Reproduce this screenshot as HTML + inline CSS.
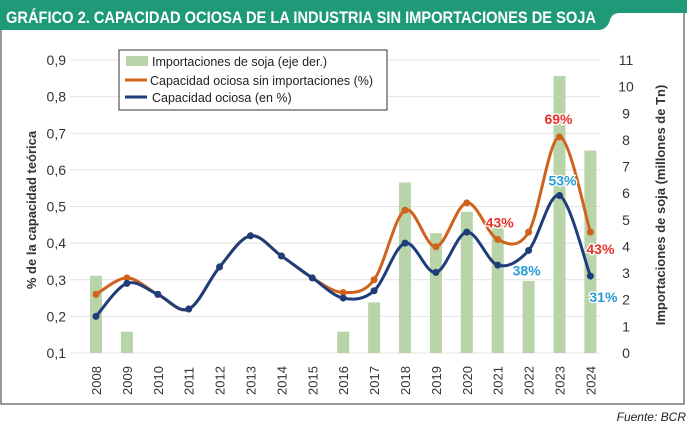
<!DOCTYPE html>
<html><head><meta charset="utf-8"><style>
body{margin:0;background:#fff;width:687px;height:425px;overflow:hidden;font-family:"Liberation Sans",sans-serif}
</style></head><body>
<svg id="chart" width="687" height="425" xmlns="http://www.w3.org/2000/svg">
<rect x="1" y="1" width="683" height="403" fill="#fff" stroke="#555" stroke-width="1.2"/>
<path d="M0 0 H687 V13 H620 Q612 13 610 20 Q607 30 598 30 H0 Z" fill="#1f9a78"/>
<text x="6" y="23" fill="#fff" font-size="17" font-weight="bold" font-family="Liberation Sans Narrow, Liberation Sans, sans-serif" textLength="590" lengthAdjust="spacingAndGlyphs">GRÁFICO 2. CAPACIDAD OCIOSA DE LA INDUSTRIA SIN IMPORTACIONES DE SOJA</text>
<g id="grid"></g><g id="bars"></g><g id="lines"></g><g id="axes"></g><g id="labels"></g>
<text x="0" y="0" transform="translate(36,210) rotate(-90)" text-anchor="middle" font-size="13" font-weight="bold" fill="#333">% de la capacidad teórica</text>
<text x="0" y="0" transform="translate(665,205) rotate(-90)" text-anchor="middle" font-size="13" font-weight="bold" fill="#333">Importaciones de soja (millones de Tn)</text>
<g>
<rect x="119" y="50" width="268" height="60" fill="#fff" stroke="#333" stroke-width="1"/>
<rect x="126" y="56" width="22" height="10" fill="#b9d4a8"/>
<text x="152" y="66" font-size="12.5" fill="#222">Importaciones de soja (eje der.)</text>
<line x1="125" y1="80" x2="147" y2="80" stroke="#d0621d" stroke-width="3"/>
<text x="150" y="85" font-size="12.5" fill="#222">Capacidad ociosa sin importaciones (%)</text>
<line x1="125" y1="97" x2="147" y2="97" stroke="#1f3d7a" stroke-width="3"/>
<text x="152" y="102" font-size="12.5" fill="#222">Capacidad ociosa (en %)</text>
</g>
<text x="686" y="421" text-anchor="end" font-size="12" font-style="italic" fill="#222">Fuente: BCR</text>
</svg>
<script>
const years=[2008,2009,2010,2011,2012,2013,2014,2015,2016,2017,2018,2019,2020,2021,2022,2023,2024];
const imports=[2.9,0.8,0,0,0,0,0,0,0.8,1.9,6.4,4.5,5.3,4.9,2.7,10.4,7.6];
const sinImport=[0.26,0.305,0.26,0.22,0.335,0.42,0.365,0.305,0.265,0.30,0.49,0.39,0.51,0.41,0.43,0.69,0.43];
const capacidad=[0.20,0.29,0.26,0.22,0.335,0.42,0.365,0.305,0.25,0.27,0.40,0.32,0.43,0.34,0.38,0.53,0.31];
const leftTicks=["0,1","0,2","0,3","0,4","0,5","0,6","0,7","0,8","0,9"];
const rightTicks=[0,1,2,3,4,5,6,7,8,9,10,11];
const labelsOrange=[[13,"43%"],[15,"69%"],[16,"43%"]];
const labelsBlue=[[14,"38%"],[15,"53%"],[16,"31%"]];
const NS="http://www.w3.org/2000/svg";
const xS=i=>96+i*30.9;
const yL=v=>353-(v-0.1)/0.8*293;
const yR=v=>353-v/11*293;
function mk(tag,at,parent){const e=document.createElementNS(NS,tag);for(const k in at)e.setAttribute(k,at[k]);document.getElementById(parent).appendChild(e);return e;}
leftTicks.forEach((t,i)=>{const v=0.1+i*0.1;
 const g=mk('line',{x1:70,x2:600,y1:yL(v),y2:yL(v),stroke:'#e4e4e4','stroke-width':1},'grid');
 
 
 const tx=mk('text',{x:66,y:yL(v)+5,'text-anchor':'end','font-size':14,fill:'#333'},'axes');tx.textContent=t;
 
 
});
rightTicks.forEach(t=>{const tx=mk('text',{x:626,y:yR(t)+5,'text-anchor':'middle','font-size':14,fill:'#333'},'axes');tx.textContent=t;
 
 
});
years.forEach((y,i)=>{const tx=mk('text',{x:0,y:0,transform:`translate(${xS(i)+5},${395}) rotate(-90)`,'font-size':13,fill:'#333'},'axes');tx.textContent=y;
 
 
 if(imports[i]>0){const b=mk('rect',{x:xS(i)-6,y:yR(imports[i]),width:12,height:353-yR(imports[i]),fill:'#b9d4a8'},'bars');
 
 }
});
function smooth(vals){const p=vals.map((v,i)=>[xS(i),yL(v)]);let d=`M${p[0][0]},${p[0][1]}`;
 for(let i=0;i<p.length-1;i++){const p0=p[Math.max(i-1,0)],p1=p[i],p2=p[i+1],p3=p[Math.min(i+2,p.length-1)];
 d+=` C${p1[0]+(p2[0]-p0[0])/6},${p1[1]+(p2[1]-p0[1])/6} ${p2[0]-(p3[0]-p1[0])/6},${p2[1]-(p3[1]-p1[1])/6} ${p2[0]},${p2[1]}`;}return d;}
[[sinImport,'#d0621d','line-sin-importaciones'],[capacidad,'#1f3d7a','line-capacidad']].forEach(([vals,c,n])=>{
 const l=mk('path',{d:smooth(vals),fill:'none',stroke:c,'stroke-width':3},'lines');
 
 
 vals.forEach((v,i)=>{const d=mk('circle',{cx:xS(i),cy:yL(v),r:3.5,fill:c},'lines');
 
 });
});
labelsOrange.forEach(([i,t])=>{const o=i===13?[2,-12]:i===15?[-1,-13]:[10,22];
 const tx=mk('text',{x:xS(i)+o[0],y:yL(sinImport[i])+o[1],'text-anchor':'middle','font-size':14,'font-weight':'bold',fill:'#e8302a',stroke:'#fff','stroke-width':2.5,'paint-order':'stroke'},'labels');tx.textContent=t;
 
 });
labelsBlue.forEach(([i,t])=>{const o=i===14?[-2,25]:i===15?[3,-10]:[13,26];
 const tx=mk('text',{x:xS(i)+o[0],y:yL(capacidad[i])+o[1],'text-anchor':'middle','font-size':14,'font-weight':'bold',fill:'#2a9ad8',stroke:'#fff','stroke-width':2.5,'paint-order':'stroke'},'labels');tx.textContent=t;
 
 });
</script>
</body></html>
